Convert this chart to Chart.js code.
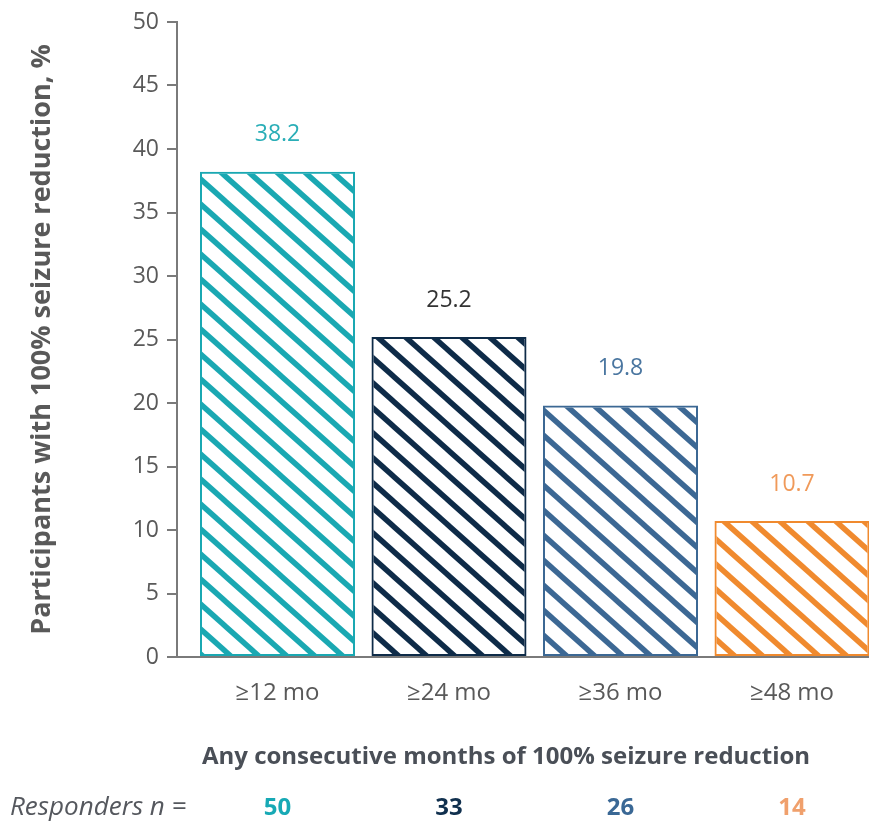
<!DOCTYPE html>
<html>
<head>
<meta charset="utf-8">
<script src="https://cdn.jsdelivr.net/npm/chart.js@4/dist/chart.umd.min.js"></script>
<style>
  html, body { margin: 0; padding: 0; background: #ffffff; }
  #wrap { width: 869px; height: 826px; position: relative; }
</style>
</head>
<body>
<div id="wrap"><canvas id="c" width="869" height="826"></canvas></div>
<script>
// Share of participants with any consecutive months of 100% seizure reduction
const categories = ['≥12 mo', '≥24 mo', '≥36 mo', '≥48 mo'];
const percentValues = [38.2, 25.2, 19.8, 10.7];
const responders = [50, 33, 26, 14];
const barColors = ['#1aa8b2', '#0e2b48', '#3c6894', '#f08a2e'];
const valueLabelColors = ['#2aaeb7', '#333333', '#4a76a0', '#f09a5a'];
const responderColors = ['#17a9b5', '#10304e', '#3a6895', '#f0a06c'];
const yTicks = [0, 5, 10, 15, 20, 25, 30, 35, 40, 45, 50];

const FONT = '"Open Sans", "Noto Sans", sans-serif';
const GREY = '#595959';

// Diagonal hatch (top-left to bottom-right) in the bar colour
function hatch(color) {
  const w = 28, h = 25;
  const c = document.createElement('canvas');
  c.width = w; c.height = h;
  const g = c.getContext('2d');
  g.strokeStyle = color;
  g.lineWidth = 5.5;
  g.lineCap = 'square';
  for (const k of [-w, 0, w]) {
    g.beginPath();
    g.moveTo(k, 0);
    g.lineTo(k + w, h);
    g.stroke();
  }
  return g.createPattern(c, 'repeat');
}

const points = percentValues.map((v, i) => ({ x: i, y: v }));

// Value labels above bars, x-axis caption and responder counts
const annotations = {
  id: 'annotations',
  afterDatasetsDraw(chart) {
    const ctx = chart.ctx;
    const meta = chart.getDatasetMeta(0);
    ctx.save();
    ctx.textAlign = 'center';
    ctx.textBaseline = 'middle';
    ctx.font = '23px ' + FONT;
    meta.data.forEach((bar, i) => {
      ctx.fillStyle = valueLabelColors[i];
      ctx.fillText(percentValues[i].toFixed(1), bar.x, bar.y - 37);
    });

    ctx.fillStyle = '#4a4f57';
    ctx.font = 'bold 24px ' + FONT;
    ctx.fillText('Any consecutive months of 100% seizure reduction', 506, 757);

    ctx.textAlign = 'left';
    ctx.fillStyle = '#55585e';
    ctx.font = 'italic 26px ' + FONT;
    ctx.fillText('Responders n =', 10, 808);

    ctx.textAlign = 'center';
    ctx.font = 'bold 24px ' + FONT;
    const xs = chart.scales.x;
    responders.forEach((n, i) => {
      ctx.fillStyle = responderColors[i];
      ctx.fillText(String(n), xs.getPixelForValue(i), 808);
    });
    ctx.restore();
  }
};

new Chart(document.getElementById('c'), {
  type: 'bar',
  data: {
    datasets: [{
      data: points,
      backgroundColor: barColors.map(hatch),
      borderColor: barColors,
      borderWidth: 2,
      borderSkipped: false,
      categoryPercentage: 1,
      barPercentage: 0.904
    }]
  },
  options: {
    responsive: false,
    animation: false,
    layout: { padding: { top: 22, right: 0, bottom: 0, left: 0 } },
    plugins: { legend: { display: false }, tooltip: { enabled: false } },
    scales: {
      x: {
        type: 'linear',
        offset: false,
        min: -0.586,
        max: 3.449,
        afterBuildTicks: s => { s.ticks = categories.map((_, i) => ({ value: i })); },
        afterFit: s => { s.height = 169; },
        ticks: {
          callback: v => categories[v] ?? '',
          font: { family: FONT, size: 24 },
          color: GREY,
          padding: 14,
          maxRotation: 0,
          autoSkip: false
        },
        grid: { display: false },
        border: { display: true, color: '#7a7a7a', width: 2 }
      },
      y: {
        min: 0,
        max: 50,
        afterBuildTicks: s => { s.ticks = yTicks.map(v => ({ value: v })); },
        afterFit: s => { s.width = 177; },
        ticks: {
          font: { family: FONT, size: 23 },
          color: GREY,
          padding: 8
        },
        grid: { drawOnChartArea: false, drawTicks: true, tickLength: 10, color: '#7a7a7a', lineWidth: 2 },
        border: { display: true, color: '#7a7a7a', width: 2 },
        title: {
          display: true,
          text: 'Participants with 100% seizure reduction, %',
          font: { family: FONT, size: 27, weight: 'bold' },
          color: GREY,
          padding: { top: 26, bottom: 0 }
        }
      }
    }
  },
  plugins: [annotations]
});
</script>
</body>
</html>
